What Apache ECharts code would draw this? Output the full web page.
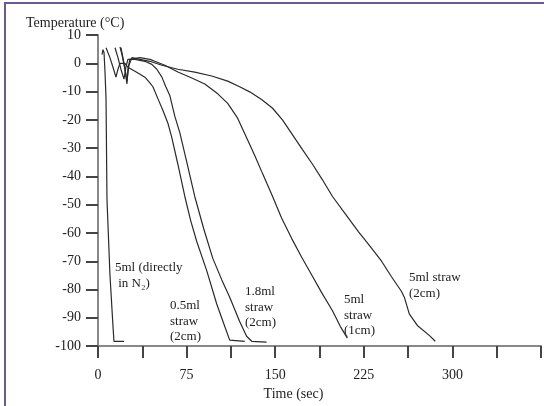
<!DOCTYPE html>
<html>
<head>
<meta charset="utf-8">
<script src="https://cdn.jsdelivr.net/npm/echarts@6/dist/echarts.min.js"></script>
<style>
  html, body { margin: 0; padding: 0; background: #fff; }
  #chart { width: 544px; height: 406px; }
</style>
</head>
<body>
<div id="chart"></div>
<script>
'use strict';

// time (sec), temperature (°C)
var directTime = [3.4, 4.2, 5.1, 5.9, 6.8, 7.6, 10.1, 12.7, 13.5, 22.0];
var directTemp = [3.1, 4.8, 3.8, -2.8, -12.5, -48.1, -74.7, -93.1, -98.3, -98.3];

var straw05Time = [6.8, 10.1, 12.7, 15.2, 16.9, 18.6, 22.8, 25.3, 31.3, 39.7, 43.9, 46.5, 50.7, 54.9, 59.1, 62.5, 67.6, 73.5, 78.5, 83.6, 92.1, 100.5, 106.4, 111.5, 124.2];
var straw05Temp = [5.5, 2.0, -1.4, -4.9, -2.1, 0, 0, -1.4, -2.8, -4.9, -6.9, -8.3, -12.5, -16.6, -21.1, -26.3, -35.7, -47.1, -55.7, -63.0, -73.4, -85.1, -92.0, -97.9, -98.3];

var straw18Time = [14.4, 16.9, 19.4, 22.0, 23.6, 25.3, 31.3, 39.7, 45.6, 49.8, 54.1, 57.4, 60.8, 65.0, 69.3, 75.2, 81.9, 89.5, 97.1, 104.7, 111.5, 119.9, 125.8, 130.1, 142.7];
var straw18Temp = [5.5, 2.0, -2.1, -5.6, -1.4, 1.4, 1.4, 0.7, -0.4, -2.1, -4.9, -8.3, -11.4, -18.7, -24.6, -35.0, -47.1, -58.5, -68.9, -76.5, -82.7, -91.3, -96.5, -98.3, -98.6];

var straw5aTime = [18.6, 20.3, 22.8, 24.5, 25.3, 27.0, 35.5, 43.9, 48.1, 56.6, 67.6, 79.4, 90.4, 101.4, 109.8, 118.2, 125.8, 132.6, 139.4, 147.8, 155.4, 163.9, 172.3, 180.7, 189.2, 198.5, 205.2, 211.1];
var straw5aTemp = [5.8, 3.1, -2.1, -7.3, -2.1, 1.4, 2.0, 1.4, 0.7, -0.7, -3.1, -5.2, -7.3, -10.8, -14.2, -19.4, -26.3, -32.5, -39.1, -47.1, -54.7, -61.9, -68.5, -74.7, -81.0, -87.5, -93.1, -97.2];

var straw5bTime = [19.4, 21.1, 23.6, 24.5, 26.2, 28.7, 35.5, 43.9, 54.1, 67.6, 81.9, 96.3, 109.8, 119.9, 128.4, 138.5, 147.8, 156.3, 164.7, 173.1, 181.6, 190.0, 198.5, 209.5, 220.4, 229.7, 239.9, 248.3, 256.8, 259.3, 263.5, 270.3, 280.4, 285.5];
var straw5bTemp = [5.5, 2.0, -3.8, -6.3, -0.7, 2.0, 1.4, 0.7, -0.7, -2.1, -3.1, -4.5, -6.3, -8.3, -10.1, -12.8, -15.9, -20.1, -25.3, -30.5, -35.7, -41.2, -47.1, -53.3, -59.5, -64.4, -69.9, -75.4, -80.6, -82.7, -88.6, -92.7, -96.2, -98.3];

function pairs(xs, ys) {
    var out = [];
    for (var i = 0; i < xs.length; i++) {
        out.push([xs[i], ys[i]]);
    }
    return out;
}

var font = 'Liberation Serif';
var textColor = '#222';

function lineSeries(name, xs, ys) {
    return {
        name: name,
        type: 'line',
        symbol: 'none',
        smooth: false,
        lineStyle: { color: '#2a2a2a', width: 1.2 },
        data: pairs(xs, ys)
    };
}

function note(x, y, text, align) {
    return {
        type: 'text',
        left: x,
        top: y,
        style: {
            text: text,
            font: '13px "' + font + '"',
            fill: textColor,
            align: align || 'left',
            lineHeight: 15.5
        }
    };
}

var chart = echarts.init(document.getElementById('chart'));

var option = {
    animation: false,
    backgroundColor: '#fff',
    title: {
        text: 'Temperature (°C)',
        left: 21,
        top: 11,
        textStyle: { fontFamily: font, fontSize: 14, fontWeight: 'normal', color: textColor }
    },
    grid: { left: 98, top: 35, right: 2, bottom: 53 },
    xAxis: {
        type: 'value',
        min: 0,
        max: 375,
        interval: 37.5,
        name: 'Time (sec)',
        nameLocation: 'middle',
        nameGap: 38,
        nameTextStyle: { fontFamily: font, fontSize: 14, color: textColor, padding: [0, 52, 0, 0] },
        axisLine: { onZero: false, lineStyle: { color: '#888', width: 2 } },
        axisTick: { length: 12, lineStyle: { color: '#444', width: 2 } },
        axisLabel: {
            fontFamily: font, fontSize: 14, color: textColor, margin: 22,
            formatter: function (v) { return (v % 75 === 0 && v < 375) ? String(v) : ''; }
        },
        splitLine: { show: false }
    },
    yAxis: {
        type: 'value',
        min: -100,
        max: 10,
        interval: 10,
        axisLine: { onZero: false, lineStyle: { color: '#888', width: 2 } },
        axisTick: { length: 12, lineStyle: { color: '#444', width: 2 } },
        axisLabel: { fontFamily: font, fontSize: 14, color: textColor, margin: 17 },
        splitLine: { show: false }
    },
    series: [
        lineSeries('5ml (directly in N2)', directTime, directTemp),
        lineSeries('0.5ml straw (2cm)', straw05Time, straw05Temp),
        lineSeries('1.8ml straw (2cm)', straw18Time, straw18Temp),
        lineSeries('5ml straw (1cm)', straw5aTime, straw5aTemp),
        lineSeries('5ml straw (2cm)', straw5bTime, straw5bTemp)
    ],
    graphic: [
        { type: 'line', shape: { x1: 5, y1: 3, x2: 5, y2: 406 }, style: { stroke: '#6a5a92', lineWidth: 2 } },
        { type: 'line', shape: { x1: 4, y1: 3, x2: 544, y2: 3 }, style: { stroke: '#6a5a92', lineWidth: 2 } },
        note(115, 260, '5ml (directly\n in N₂)'),
        note(170, 298, '0.5ml\nstraw\n(2cm)'),
        note(245, 284, '1.8ml\nstraw\n(2cm)'),
        note(344, 292, '5ml\nstraw\n(1cm)'),
        note(409, 270, '5ml straw\n(2cm)')
    ]
};

chart.setOption(option);
</script>
</body>
</html>
